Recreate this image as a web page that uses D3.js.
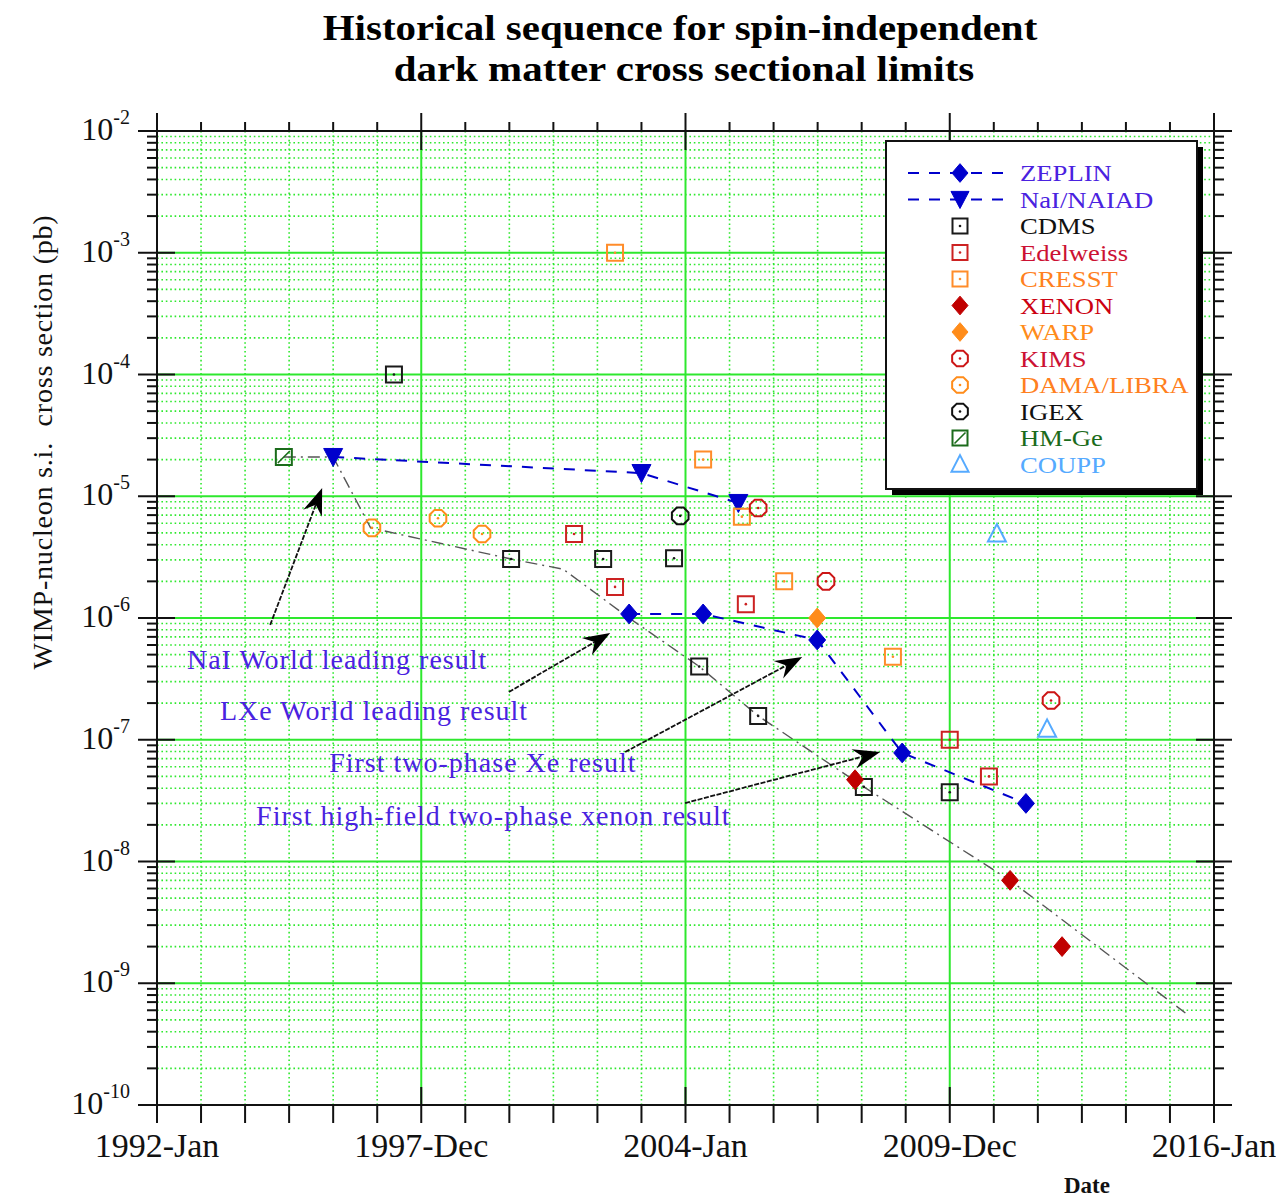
<!DOCTYPE html>
<html><head><meta charset="utf-8">
<script src="https://cdn.jsdelivr.net/npm/d3@7"></script>
<style>
body{margin:0;background:#fff}
text{font-family:"Liberation Serif","Times New Roman",serif}
</style>
</head><body>
<svg id="chart" width="1276" height="1199"></svg>
<script>
// ---------------- DATA (x = decimal year, y = cross section in pb) ----------------
const zeplinYears  = [2002.72, 2004.40, 2006.99, 2008.92, 2011.73];
const zeplinValues = [1.08e-6, 1.08e-6, 6.6e-7, 7.8e-8, 3.0e-8];
const naiYears  = [1996.0, 2003.0, 2005.2];
const naiValues = [2.1e-5, 1.55e-5, 8.8e-6];
const cdmsYears  = [1997.38, 2000.04, 2002.13, 2003.74, 2004.31, 2005.65, 2008.05, 2010.0];
const cdmsValues = [1.0e-4, 3.05e-6, 3.05e-6, 3.1e-6, 4.0e-7, 1.57e-7, 4.1e-8, 3.7e-8];
const edelweissYears  = [2001.47, 2002.40, 2005.37, 2010.0, 2010.89];
const edelweissValues = [4.9e-6, 1.8e-6, 1.3e-6, 1.0e-7, 5.0e-8];
const cresstYears  = [2002.40, 2004.40, 2005.28, 2006.24, 2008.71];
const cresstValues = [1.0e-3, 2.0e-5, 6.8e-6, 2.0e-6, 4.8e-7];
const xenonYears  = [2007.85, 2011.37, 2012.55];
const xenonValues = [4.7e-8, 7.0e-9, 2.0e-9];
const warpYears  = [2006.99];
const warpValues = [1.0e-6];
const kimsYears  = [2005.65, 2007.19, 2012.30];
const kimsValues = [8.0e-6, 2.0e-6, 2.1e-7];
const damaYears  = [1996.88, 1998.38, 1999.38];
const damaValues = [5.5e-6, 6.6e-6, 4.9e-6];
const igexYears  = [2003.88];
const igexValues = [6.9e-6];
const hmgeYears  = [1994.88];
const hmgeValues = [2.1e-5];
const couppYears  = [2011.07, 2012.21];
const couppValues = [4.9e-6, 1.22e-7];
// world-leading trend (grey dash-dot line)
const trendYears  = [1994.88, 1996.0, 1996.85, 2000.04, 2001.22, 2002.72, 2004.31, 2005.65, 2008.05, 2011.37, 2015.35];
const trendValues = [2.1e-5, 2.1e-5, 5.5e-6, 3.05e-6, 2.52e-6, 1.0e-6, 4.0e-7, 1.57e-7, 4.1e-8, 7.0e-9, 5.7e-10];

// axis ticks
const xTickValues = [1992, 1998, 2004, 2010, 2016];
const xTickLabels = ["1992-Jan", "1997-Dec", "2004-Jan", "2009-Dec", "2016-Jan"];
const yTickExponents = [-10, -9, -8, -7, -6, -5, -4, -3, -2];

// annotations: text with its anchor (year, value), arrow tail -> tip
const noteTexts  = ["NaI World leading result", "LXe World leading result", "First two-phase Xe result", "First high-field two-phase xenon result"];
const noteYears  = [1992.68, 1993.43, 1995.91, 1994.25];
const noteValues = [3.81e-7, 1.45e-7, 5.43e-8, 2.0e-8];
const arrowTailYears  = [1994.57, 1999.99, 2002.63, 2003.99];
const arrowTailValues = [8.77e-7, 2.47e-7, 7.93e-8, 3.02e-8];
const arrowTipYears   = [1995.75, 2002.29, 2006.65, 2008.42];
const arrowTipValues  = [1.17e-5, 7.53e-7, 4.79e-7, 7.93e-8];

// ---------------- SETUP ----------------
const svg = d3.select("#chart");
svg.append("rect").attr("width",1276).attr("height",1199).attr("fill","#fff");
const L = 157, R = 1214, T = 131, B = 1105;
const x = d3.scaleLinear().domain([1992, 2016]).range([L, R]);
const y = d3.scaleLog().domain([1e-10, 1e-2]).range([B, T]);
const GREEN = "#2ee82e";

// ---------------- GRID ----------------
const grid = svg.append("g");
const minorYears = d3.range(1993, 2016).filter(v => !xTickValues.includes(v));
grid.selectAll(".vmin").data(minorYears).join("line")
  .attr("x1", d => x(d)).attr("x2", d => x(d)).attr("y1", T).attr("y2", B)
  .attr("stroke", GREEN).attr("stroke-width", 1.6).attr("stroke-dasharray", "1.6,2.8");
const minorVals = [];
for (let e = -10; e < -2; e++) for (let m = 2; m <= 9; m++) minorVals.push(m * Math.pow(10, e));
grid.selectAll(".hmin").data(minorVals).join("line")
  .attr("x1", L).attr("x2", R).attr("y1", d => y(d)).attr("y2", d => y(d))
  .attr("stroke", GREEN).attr("stroke-width", 1.6).attr("stroke-dasharray", "1.6,2.8");
grid.selectAll(".vmaj").data(xTickValues.slice(1, -1)).join("line")
  .attr("x1", d => x(d)).attr("x2", d => x(d)).attr("y1", T).attr("y2", B)
  .attr("stroke", GREEN).attr("stroke-width", 2);
grid.selectAll(".hmaj").data(yTickExponents.slice(1, -1)).join("line")
  .attr("x1", L).attr("x2", R).attr("y1", d => y(Math.pow(10, d))).attr("y2", d => y(Math.pow(10, d)))
  .attr("stroke", GREEN).attr("stroke-width", 2);

// ---------------- AXES ----------------
const ax = svg.append("g").attr("stroke", "#111").attr("stroke-width", 2);
ax.append("line").attr("x1", L - 19).attr("x2", R + 18).attr("y1", T).attr("y2", T);
ax.append("line").attr("x1", L - 19).attr("x2", R + 18).attr("y1", B).attr("y2", B);
ax.append("line").attr("x1", L).attr("x2", L).attr("y1", T - 18).attr("y2", B + 18);
ax.append("line").attr("x1", R).attr("x2", R).attr("y1", T - 18).attr("y2", B + 18);
// x minor ticks (outward)
ax.selectAll(".xmt").data(minorYears).join("line")
  .attr("x1", d => x(d)).attr("x2", d => x(d)).attr("y1", T - 9).attr("y2", T);
ax.selectAll(".xmb").data(minorYears).join("line")
  .attr("x1", d => x(d)).attr("x2", d => x(d)).attr("y1", B).attr("y2", B + 18);
// x major ticks (crossing)
ax.selectAll(".xMt").data(xTickValues.slice(1, -1)).join("line")
  .attr("x1", d => x(d)).attr("x2", d => x(d)).attr("y1", T - 18).attr("y2", T + 19);
ax.selectAll(".xMb").data(xTickValues.slice(1, -1)).join("line")
  .attr("x1", d => x(d)).attr("x2", d => x(d)).attr("y1", B - 18).attr("y2", B + 18);
// y minor ticks
ax.selectAll(".yml").data(minorVals).join("line")
  .attr("x1", L - 10).attr("x2", L).attr("y1", d => y(d)).attr("y2", d => y(d));
ax.selectAll(".ymr").data(minorVals).join("line")
  .attr("x1", R).attr("x2", R + 10).attr("y1", d => y(d)).attr("y2", d => y(d));
// y major ticks
ax.selectAll(".yMl").data(yTickExponents.slice(1, -1)).join("line")
  .attr("x1", L - 19).attr("x2", L + 18).attr("y1", d => y(Math.pow(10, d))).attr("y2", d => y(Math.pow(10, d)));
ax.selectAll(".yMr").data(yTickExponents.slice(1, -1)).join("line")
  .attr("x1", R - 18).attr("x2", R + 18).attr("y1", d => y(Math.pow(10, d))).attr("y2", d => y(Math.pow(10, d)));

// tick labels
svg.selectAll(".xl").data(xTickValues).join("text")
  .attr("x", d => x(d)).attr("y", B + 52).attr("text-anchor", "middle")
  .attr("font-size", 34).attr("fill", "#111").text((d, i) => xTickLabels[i]);
const yl = svg.selectAll(".yl").data(yTickExponents).join("text")
  .attr("x", 130).attr("y", d => y(Math.pow(10, d)) + 9).attr("text-anchor", "end")
  .attr("font-size", 32).attr("fill", "#111");
yl.append("tspan").text("10");
yl.append("tspan").attr("font-size", 20).attr("dy", -16).text(d => "-" + Math.abs(d));

// axis titles
svg.append("text").attr("transform", "translate(52,442) rotate(-90)").attr("text-anchor", "middle")
  .attr("font-size", 28).attr("letter-spacing", 0.8).attr("fill", "#111")
  .attr("xml:space", "preserve").text("WIMP-nucleon s.i.  cross section (pb)");
svg.append("text").attr("x", 1087).attr("y", 1193).attr("text-anchor", "middle")
  .attr("font-size", 23).attr("font-weight", "bold").attr("fill", "#111").text("Date");
svg.append("text").attr("transform", "translate(680,40) scale(1.17,1)").attr("text-anchor", "middle")
  .attr("font-size", 35).attr("font-weight", "bold").attr("fill", "#000").text("Historical sequence for spin-independent");
svg.append("text").attr("transform", "translate(684,81) scale(1.17,1)").attr("text-anchor", "middle")
  .attr("font-size", 35).attr("font-weight", "bold").attr("fill", "#000").text("dark matter cross sectional limits");

// ---------------- SHAPES ----------------
const shapes = {
  square: s => `M${-s/2},${-s/2}h${s}v${s}h${-s}Z`,
  diamond: s => `M0,${-s*0.55}L${s*0.47},0L0,${s*0.55}L${-s*0.47},0Z`,
  octagon: s => { const r = s/2; return d3.range(8).map(k => { const a = Math.PI/8 + k*Math.PI/4; return (k?"L":"M") + (r*Math.cos(a)).toFixed(2) + "," + (r*Math.sin(a)).toFixed(2); }).join("") + "Z"; },
  triDown: s => `M${-s/2},${-s*0.45}L${s/2},${-s*0.45}L0,${s*0.5}Z`,
  triUp: s => `M0,${-s*0.55}L${s/2},${s*0.42}L${-s/2},${s*0.42}Z`
};
const series = [
  {name:"ZEPLIN", years:zeplinYears, values:zeplinValues, shape:"diamond", size:18, color:"#0000cc", text:"#4a22e0", filled:true, line:true},
  {name:"NaI/NAIAD", years:naiYears, values:naiValues, shape:"triDown", size:19, color:"#0000cc", text:"#4a22e0", filled:true, line:true},
  {name:"CDMS", years:cdmsYears, values:cdmsValues, shape:"square", size:16, color:"#1a1a1a", text:"#111", dot:true},
  {name:"Edelweiss", years:edelweissYears, values:edelweissValues, shape:"square", size:16, color:"#cc2222", text:"#cc1133", dot:true},
  {name:"CRESST", years:cresstYears, values:cresstValues, shape:"square", size:16, color:"#ff8c2a", text:"#ff8020", dot:true},
  {name:"XENON", years:xenonYears, values:xenonValues, shape:"diamond", size:18, color:"#c00000", text:"#cc0011", filled:true},
  {name:"WARP", years:warpYears, values:warpValues, shape:"diamond", size:18, color:"#ff8c1a", text:"#ff8c1a", filled:true},
  {name:"KIMS", years:kimsYears, values:kimsValues, shape:"octagon", size:18, color:"#cc1515", text:"#cc1133", dot:true},
  {name:"DAMA/LIBRA", years:damaYears, values:damaValues, shape:"octagon", size:18, color:"#ff8c1a", text:"#ff8020", dot:true},
  {name:"IGEX", years:igexYears, values:igexValues, shape:"octagon", size:18, color:"#111", text:"#111", dot:true},
  {name:"HM-Ge", years:hmgeYears, values:hmgeValues, shape:"square", size:16, color:"#1b6b1b", text:"#1b6b1b", slash:true},
  {name:"COUPP", years:couppYears, values:couppValues, shape:"triUp", size:18, color:"#55aaff", text:"#55aaff"}
];

// ---------------- LINES ----------------
const lineGen = d3.line().x(d => x(d[0])).y(d => y(d[1]));
svg.append("path").datum(d3.zip(trendYears, trendValues)).attr("d", lineGen)
  .attr("fill", "none").attr("stroke", "#555").attr("stroke-width", 1.4).attr("stroke-dasharray", "12,5,2,5");
series.filter(s => s.line).forEach(s => {
  svg.append("path").datum(d3.zip(s.years, s.values)).attr("d", lineGen)
    .attr("fill", "none").attr("stroke", s.color).attr("stroke-width", 2).attr("stroke-dasharray", "11,10");
});

// ---------------- MARKERS ----------------
function drawMarker(g, s) {
  g.append("path").attr("d", shapes[s.shape](s.size))
    .attr("fill", s.filled ? s.color : "none").attr("stroke", s.color)
    .attr("stroke-width", s.filled ? 1 : 2);
  if (s.dot) g.append("circle").attr("r", 1.3).attr("fill", s.color);
  if (s.slash) g.append("line").attr("x1", -s.size/2 + 2).attr("y1", s.size/2 - 2).attr("x2", s.size/2 - 2).attr("y2", -s.size/2 + 2)
    .attr("stroke", s.color).attr("stroke-width", 1.6);
}
series.forEach(s => {
  d3.zip(s.years, s.values).forEach(p => {
    drawMarker(svg.append("g").attr("transform", `translate(${x(p[0])},${y(p[1])})`), s);
  });
});

// ---------------- ANNOTATIONS ----------------
noteTexts.forEach((t, i) => {
  svg.append("text").attr("x", x(noteYears[i])).attr("y", y(noteValues[i]))
    .attr("font-size", 28).attr("letter-spacing", 1).attr("fill", "#4a22e0").text(t);
  const x0 = x(arrowTailYears[i]), y0 = y(arrowTailValues[i]);
  const x1 = x(arrowTipYears[i]), y1 = y(arrowTipValues[i]);
  const dx = x1 - x0, dy = y1 - y0, len = Math.hypot(dx, dy);
  const ux = dx / len, uy = dy / len, nx = -uy, ny = ux;
  const hl = 27, hw = 10, notch = 9;
  svg.append("line").attr("x1", x0).attr("y1", y0).attr("x2", x1 - ux * (hl - notch)).attr("y2", y1 - uy * (hl - notch))
    .attr("stroke", "#111").attr("stroke-width", 1.8).attr("stroke-dasharray", "5,1.5");
  const pts = [[x1, y1], [x1 - ux*hl + nx*hw, y1 - uy*hl + ny*hw], [x1 - ux*(hl-notch), y1 - uy*(hl-notch)], [x1 - ux*hl - nx*hw, y1 - uy*hl - ny*hw]];
  svg.append("path").attr("d", "M" + pts.map(p => p.join(",")).join("L") + "Z").attr("fill", "#000");
});

// ---------------- LEGEND ----------------
const lg = svg.append("g");
lg.append("rect").attr("x", 892).attr("y", 147).attr("width", 311).attr("height", 348).attr("fill", "#000");
lg.append("rect").attr("x", 886).attr("y", 141).attr("width", 311).attr("height", 348).attr("fill", "#fff").attr("stroke", "#111").attr("stroke-width", 2);
series.forEach((s, i) => {
  const cy = 173 + i * 26.5;
  if (s.line) lg.append("line").attr("x1", 908).attr("x2", 1012).attr("y1", cy).attr("y2", cy)
    .attr("stroke", s.color).attr("stroke-width", 2).attr("stroke-dasharray", "11,10");
  drawMarker(lg.append("g").attr("transform", `translate(960,${cy})`), Object.assign({}, s, {size: s.size - 1}));
  lg.append("text").attr("transform", `translate(1020,${cy + 8}) scale(1.16,1)`)
    .attr("font-size", 23).attr("fill", s.text).text(s.name);
});
</script>
</body></html>
